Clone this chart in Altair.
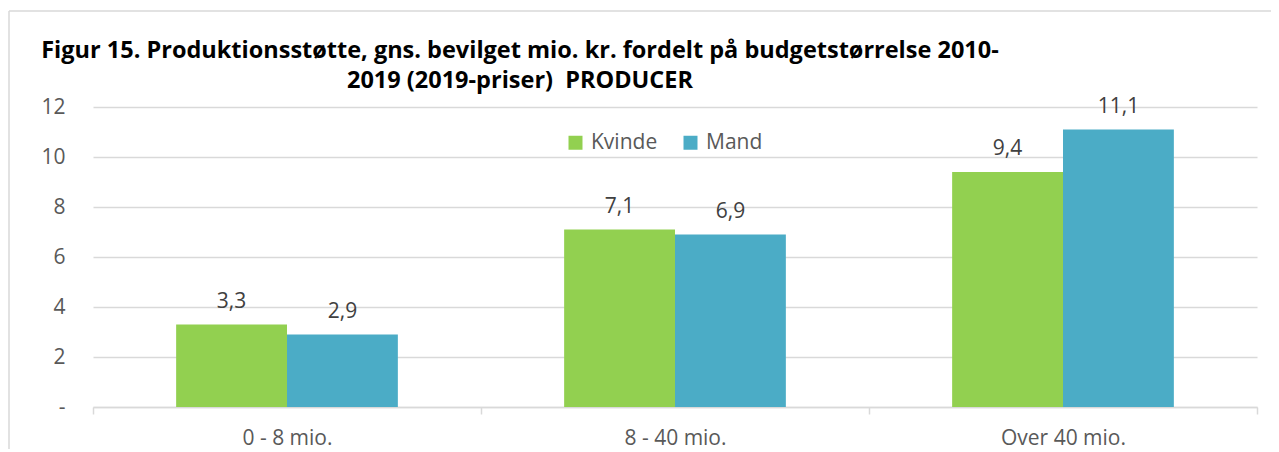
import altair as alt
import pandas as pd

categories = ["0 - 8 mio.", "8 - 40 mio.", "Over 40 mio."]
kvinde = [3.3, 7.1, 9.4]
mand = [2.9, 6.9, 11.1]
series = ["Kvinde", "Mand"]
colors = ["#92D050", "#4BACC6"]
title_lines = [
    "Figur 15. Produktionsstøtte, gns. bevilget mio. kr. fordelt på budgetstørrelse 2010-",
    "2019 (2019-priser)\u00a0\u00a0PRODUCER",
]

rows = []
for c, k, m in zip(categories, kvinde, mand):
    rows.append({"kategori": c, "serie": "Kvinde", "vaerdi": k})
    rows.append({"kategori": c, "serie": "Mand", "vaerdi": m})
df = pd.DataFrame(rows)

W, H = 1164, 300
FONT = "Open Sans"
GRID = "#d9d9d9"
FS = 21

base = alt.Chart(df).encode(
    x=alt.X(
        "kategori:N",
        sort=categories,
        scale=alt.Scale(paddingInner=0, paddingOuter=0),
        axis=alt.Axis(
            title=None,
            labelAngle=0,
            labelFontSize=FS,
            labelColor="#595959",
            labelPadding=13,
            domainColor=GRID,
            domainWidth=1.5,
            tickColor=GRID,
            tickWidth=1.5,
            tickSize=7,
            tickBand="extent",
            grid=False,
        ),
    ),
    xOffset=alt.XOffset("serie:N", sort=series, scale=alt.Scale(paddingInner=0, paddingOuter=0.75)),
)

bars = base.mark_bar().encode(
    y=alt.Y(
        "vaerdi:Q",
        scale=alt.Scale(domain=[0, 12]),
        axis=alt.Axis(
            title=None,
            values=[0, 2, 4, 6, 8, 10, 12],
            labelExpr="datum.value == 0 ? '-\u2007' : datum.label",
            labelFontSize=FS,
            labelColor="#595959",
            labelPadding=28,
            ticks=False,
            domain=False,
            grid=True,
            gridColor=GRID,
            gridWidth=1.5,
        ),
    ),
    color=alt.Color(
        "serie:N",
        sort=series,
        scale=alt.Scale(domain=series, range=colors),
        legend=alt.Legend(
            title=None,
            orient="none",
            legendX=472,
            legendY=25,
            direction="horizontal",
            symbolType="square",
            symbolSize=196,
            symbolStrokeWidth=0,
            symbolOpacity=1,
            labelFontSize=FS,
            labelColor="#595959",
            labelOffset=5,
            columnPadding=22,
        ),
    ),
)

labels = base.mark_text(baseline="alphabetic", dy=-17, fontSize=FS, color="#404040").encode(
    y=alt.Y("vaerdi:Q"),
    text=alt.Text("lbl:N"),
).transform_calculate(lbl="replace(format(datum.vaerdi, '.1f'), '.', ',')")

one = pd.DataFrame({"a": [0]})
frame_top = alt.Chart(one).mark_rule(color=GRID, strokeWidth=1.5).encode(
    x=alt.value(-84), x2=alt.value(1250), y=alt.value(-96)
)
frame_left = alt.Chart(one).mark_rule(color=GRID, strokeWidth=1.5).encode(
    x=alt.value(-84), y=alt.value(-96), y2=alt.value(400)
)

chart = alt.layer(frame_top, frame_left, bars, labels).properties(
    width=W,
    height=H,
    autosize=alt.AutoSizeParams(type="none"),
    padding={"left": 85, "top": 99, "right": 14, "bottom": 42},
    title=alt.Title(
        title_lines,
        anchor="middle",
        align="center",
        frame="group",
        dx=-155,
        offset=-82,
        fontSize=23.5,
        fontWeight="bold",
        color="#000000",
        lineHeight=30,
    ),
).configure(font=FONT).configure_view(stroke=None)

chart.save("out.html", embed_options={"renderer": "svg", "actions": False})
